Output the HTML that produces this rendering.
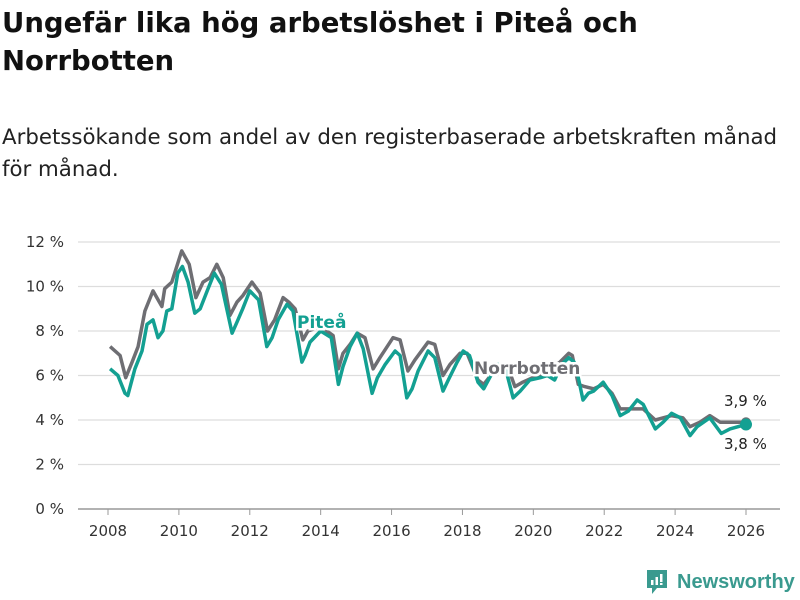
<!DOCTYPE html>
<html><head><meta charset="utf-8">
<style>
body{margin:0;width:800px;height:600px;background:#fff;font-family:"DejaVu Sans","Liberation Sans",sans-serif;overflow:hidden;position:relative}
h1{position:absolute;left:2px;top:4px;margin:0;font-size:27.5px;line-height:38px;font-weight:bold;color:#111;width:798px;white-space:nowrap}
p.sub{position:absolute;left:2px;top:122px;margin:0;font-size:21.3px;line-height:32px;color:#222;width:798px;white-space:nowrap}
svg{position:absolute;left:0;top:0}
</style></head><body>
<h1>Ungefär lika hög arbetslöshet i Piteå och<br>Norrbotten</h1>
<p class="sub">Arbetssökande som andel av den registerbaserade arbetskraften månad<br>för månad.</p>
<svg id="chart" width="800" height="600"></svg>
<script>
const yTicks=[0,2,4,6,8,10,12];
const xTicks=[2008,2010,2012,2014,2016,2018,2020,2022,2024,2026];
const norrDates=[2008.06,2008.34,2008.5,2008.68,2008.85,2009.04,2009.27,2009.52,2009.6,2009.8,2010.08,2010.29,2010.48,2010.68,2010.88,2011.07,2011.25,2011.44,2011.64,2011.81,2012.06,2012.29,2012.5,2012.7,2012.94,2013.1,2013.28,2013.5,2013.64,2014.0,2014.35,2014.5,2014.63,2014.83,2015.03,2015.25,2015.48,2015.67,2016.04,2016.24,2016.46,2016.66,2017.03,2017.22,2017.45,2017.65,2017.93,2018.13,2018.44,2018.6,2018.9,2019.1,2019.3,2019.48,2019.7,2019.98,2020.27,2020.5,2020.75,2021.0,2021.1,2021.27,2021.45,2021.7,2021.97,2022.22,2022.45,2022.73,2023.1,2023.44,2023.9,2024.22,2024.42,2024.7,2024.98,2025.27,2025.55,2025.92,2026.0];
const norrValues=[7.3,6.9,5.9,6.6,7.3,8.9,9.8,9.1,9.9,10.2,11.6,11.0,9.5,10.2,10.4,11.0,10.4,8.7,9.3,9.6,10.2,9.7,8.0,8.5,9.5,9.3,9.0,7.6,8.0,8.2,7.8,6.3,7.0,7.4,7.9,7.7,6.3,6.8,7.7,7.6,6.2,6.7,7.5,7.4,6.0,6.5,7.0,7.0,5.8,5.6,6.2,6.5,6.3,5.5,5.7,5.9,6.0,6.3,6.6,7.0,6.9,5.6,5.5,5.4,5.6,5.2,4.5,4.5,4.5,4.0,4.2,4.1,3.7,3.9,4.2,3.9,3.9,3.9,3.9];
const piteDates=[2008.06,2008.28,2008.48,2008.56,2008.76,2008.96,2009.1,2009.27,2009.41,2009.55,2009.66,2009.8,2009.97,2010.1,2010.26,2010.45,2010.6,2010.8,2011.0,2011.2,2011.5,2011.64,2011.8,2012.0,2012.25,2012.48,2012.63,2012.8,2013.05,2013.22,2013.47,2013.56,2013.7,2014.0,2014.3,2014.5,2014.63,2014.83,2015.03,2015.2,2015.45,2015.6,2015.82,2016.1,2016.24,2016.43,2016.58,2016.75,2017.03,2017.22,2017.45,2017.6,2017.85,2018.02,2018.2,2018.44,2018.6,2018.8,2019.0,2019.2,2019.43,2019.63,2019.9,2020.2,2020.4,2020.6,2020.8,2021.0,2021.15,2021.27,2021.4,2021.55,2021.7,2021.97,2022.22,2022.45,2022.68,2022.93,2023.1,2023.44,2023.66,2023.9,2024.15,2024.42,2024.62,2024.98,2025.3,2025.55,2026.0];
const piteValues=[6.3,6.0,5.2,5.1,6.3,7.1,8.3,8.5,7.7,8.0,8.9,9.0,10.6,10.9,10.2,8.8,9.0,9.8,10.6,10.1,7.9,8.4,9.0,9.8,9.4,7.3,7.7,8.5,9.2,8.9,6.6,6.9,7.5,8.0,7.7,5.6,6.4,7.3,7.9,7.2,5.2,5.9,6.5,7.1,6.9,5.0,5.4,6.2,7.1,6.8,5.3,5.8,6.6,7.1,6.9,5.7,5.4,6.0,6.5,6.4,5.0,5.3,5.8,5.9,6.0,5.8,6.5,6.8,6.6,5.9,4.9,5.2,5.3,5.7,5.1,4.2,4.4,4.9,4.7,3.6,3.9,4.3,4.1,3.3,3.7,4.1,3.4,3.6,3.8];
const NS="http://www.w3.org/2000/svg";
const svg=document.getElementById('chart');
const X0=108,X1=746,Y0=509,Y12=242;
function xs(t){return X0+(t-2008)*(X1-X0)/18;}
function ys(v){return Y0-v*(Y0-Y12)/12;}
function mk(tag,attrs,parent){const e=document.createElementNS(NS,tag);for(const k in attrs)e.setAttribute(k,attrs[k]);(parent||svg).appendChild(e);return e;}
yTicks.forEach(v=>{
  const l=mk('line',{x1:78,x2:780,y1:ys(v),y2:ys(v),stroke:v===0?'#999':'#ddd','stroke-width':v===0?1.5:1.2});
  
  
  const t=mk('text',{x:64,y:ys(v)+5,'text-anchor':'end','font-size':15,fill:'#333'});
  t.textContent=v+' %';
  
  
});
xTicks.forEach(v=>{
  const l=mk('line',{x1:xs(v),x2:xs(v),y1:Y0,y2:Y0+6,stroke:'#999','stroke-width':1});
  
  
  const t=mk('text',{x:xs(v),y:536,'text-anchor':'middle','font-size':15,fill:'#333'});
  t.textContent=v;
  
  
});
function pathOf(d,v){return d.map((t,i)=>(i?'L':'M')+xs(t).toFixed(1)+','+ys(v[i]).toFixed(1)).join('');}
const pn=mk('path',{d:pathOf(norrDates,norrValues),fill:'none',stroke:'#6e6e73','stroke-width':3.5,'stroke-linejoin':'round'});


const pp=mk('path',{d:pathOf(piteDates,piteValues),fill:'none',stroke:'#13a092','stroke-width':3.5,'stroke-linejoin':'round'});


const lastN=norrValues.length-1,lastP=piteValues.length-1;
const dn=mk('circle',{cx:xs(norrDates[lastN]),cy:ys(norrValues[lastN]),r:5,fill:'#6e6e73'});


const dp=mk('circle',{cx:xs(piteDates[lastP]),cy:ys(piteValues[lastP]),r:6,fill:'#13a092'});


function label(txt,x,y,color,name,bold,halo){
  const t=mk('text',{x:x,y:y,'font-size':bold?17:15,'font-weight':bold?'bold':'normal',fill:color});
  if(halo){t.setAttribute('stroke','#fff');t.setAttribute('stroke-width',5);t.setAttribute('paint-order','stroke');}
  t.textContent=txt;
  
  
}
label('Piteå',297,328,'#13a092','pitea-label',true,true);
label('Norrbotten',474,374,'#6e6e73','norrbotten-label',true,true);
label('3,9 %',724,406,'#222','norrbotten-end-value',false,true);
label('3,8 %',724,449,'#222','pitea-end-value',false,true);
</script>
<div style="position:absolute;left:645px;top:568px;height:28px;display:flex;align-items:center">
<svg width="24" height="28" viewBox="0 0 24 28" style="position:static"><path d="M2 2h20v18h-10l-5 6v-6H2z" fill="#3a9a8f"/><rect x="6" y="12" width="2.5" height="5" fill="#fff"/><rect x="10.5" y="9" width="2.5" height="8" fill="#fff"/><rect x="15" y="6" width="2.5" height="8" fill="#fff"/><rect x="15" y="15" width="2.5" height="2" fill="#fff"/></svg>
<span style="margin-left:8px;font-size:20px;color:#3a9a8f;font-weight:bold;font-family:'Liberation Sans',sans-serif">Newsworthy</span></div>
</body></html>
